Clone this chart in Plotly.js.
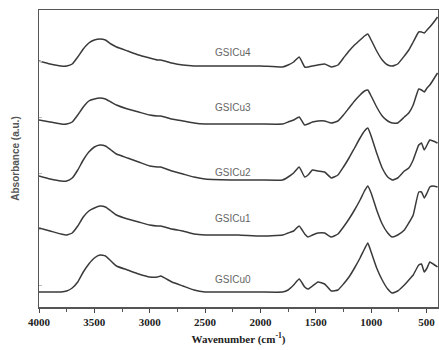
<!DOCTYPE html>
<html>
<head>
<meta charset="utf-8">
<script src="https://cdn.plot.ly/plotly-3.0.1.min.js"></script>
<style>
  html, body { margin: 0; padding: 0; background: #fff; }
  #chart { width: 439px; height: 350px; }
</style>
</head>
<body>
<div id="chart"></div>
<script>
// Wavenumber grid (cm^-1)
const wavenumber = [4000,3900,3800,3750,3700,3650,3600,3550,3500,3450,3400,3350,3300,3200,3100,3000,2930,2900,2800,2700,2600,2500,2200,2000,1800,1750,1700,1650,1600,1570,1530,1480,1420,1360,1300,1250,1200,1150,1100,1060,1030,1000,950,900,850,810,760,700,660,620,570,545,520,495,470,440,400];

// Absorbance (a.u., stacked as drawn)
const GSICu0 = [15,15,15,16,19,25,35,43,49,52,51,46,41,37,33,30,30,31,25,21,17,15,15,15,15,17,22,28,20,18,21,25,23,16,17,23,30,39,49,58,64,55,39,27,18,14,16,22,27,32,42,43,35,39,45,43,40];
const GSICu1 = [79,76,73,72,74,81,90,96,99,101,100,96,92,88,85,82,81,81,78,76,73,72,72,71,72,74,76,81,73,70,72,74,74,70,73,80,88,97,107,116,121,114,97,83,74,70,72,77,84,92,115,115,109,114,120,121,120];
const GSICu2 = [131,128,126,126,129,137,147,155,160,162,161,157,153,149,145,141,140,140,136,133,130,128,127,127,127,130,134,140,130,132,137,136,135,129,132,140,149,159,169,176,179,171,154,139,130,127,129,136,139,147,162,164,157,162,167,166,164];
const GSICu3 = [187,185,183,183,185,192,200,206,208,209,208,205,202,198,195,192,191,191,188,186,184,183,183,183,183,185,187,190,182,183,185,186,186,184,186,192,199,206,212,216,217,211,200,191,186,184,184,190,194,202,218,217,215,219,222,227,234];
const GSICu4 = [246,243,241,241,243,250,258,264,267,268,267,263,260,256,252,249,247,247,244,242,241,241,241,241,240,242,245,250,240,240,241,242,243,240,242,249,256,262,267,271,273,267,256,247,242,241,243,251,257,265,275,275,274,277,280,284,290];

const seriesNames = ["GSICu0","GSICu1","GSICu2","GSICu3","GSICu4"];
const seriesValues = [GSICu0, GSICu1, GSICu2, GSICu3, GSICu4];
const labelY = [28, 89, 135, 200, 255];
const labelX = 2250;
const xTicks = [4000,3500,3000,2500,2000,1500,1000,500];

const traces = seriesValues.map((vals, i) => ({
  x: wavenumber,
  y: vals,
  type: 'scatter',
  mode: 'lines',
  name: seriesNames[i],
  line: { color: '#3a3a3a', width: 1.5, shape: 'spline', smoothing: 0.4 },
  hoverinfo: 'skip'
}));

const annotations = seriesNames.map((n, i) => ({
  x: labelX, y: labelY[i], xref: 'x', yref: 'y',
  text: n, showarrow: false,
  font: { family: 'Liberation Sans, Arial, sans-serif', size: 10, color: '#666' }
}));

const layout = {
  width: 439, height: 350,
  margin: { l: 39, r: 1, t: 10, b: 43 },
  paper_bgcolor: '#fff', plot_bgcolor: '#fff',
  showlegend: false,
  xaxis: {
    range: [4000, 396],
    tickvals: xTicks,
    ticks: 'outside', ticklen: 4, tickcolor: '#444', tickwidth: 1,
    minor: { dtick: 250, tick0: 0, ticks: 'outside', ticklen: 3, tickcolor: '#555', showgrid: false },
    showgrid: false, zeroline: false,
    showline: true, linecolor: '#555', linewidth: 1.5, mirror: true,
    tickfont: { family: 'Liberation Serif, Times New Roman, serif', size: 11, color: '#222', weight: 'bold' },
    title: { text: '<b>Wavenumber (cm<sup>-1</sup>)</b>', standoff: 8,
      font: { family: 'Liberation Serif, Times New Roman, serif', size: 11, color: '#222' } }
  },
  yaxis: {
    range: [0, 297],
    tick0: 22, dtick: 56,
    ticks: 'inside', ticklen: 3, tickcolor: '#bbb',
    showticklabels: false,
    showgrid: false, zeroline: false,
    showline: true, linecolor: '#555', linewidth: 1.5, mirror: true,
    title: { text: '<b>Absorbance (a.u.)</b>', standoff: 16,
      font: { family: 'Liberation Sans, Arial, sans-serif', size: 10, color: '#555' } }
  },
  annotations: annotations
};

Plotly.newPlot('chart', traces, layout, { staticPlot: true, displayModeBar: false });
</script>
</body>
</html>
